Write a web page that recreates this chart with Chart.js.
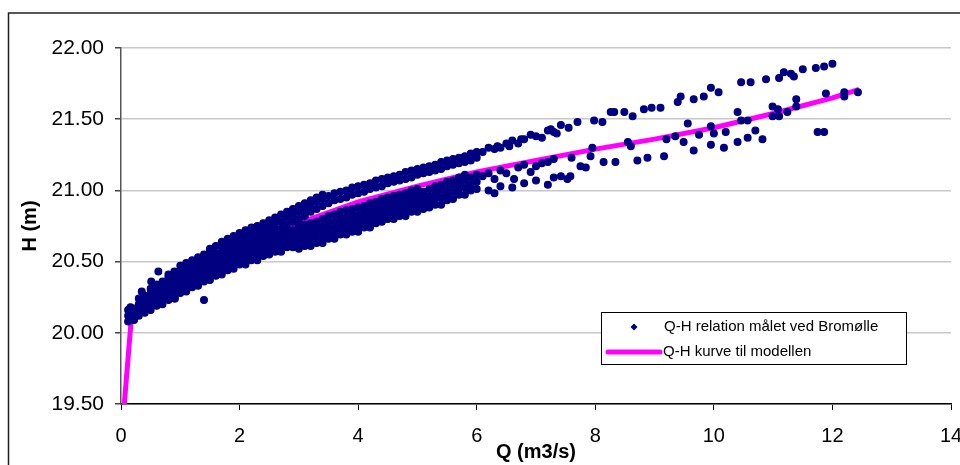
<!DOCTYPE html>
<html>
<head>
<meta charset="utf-8">
<script src="https://cdn.jsdelivr.net/npm/chart.js@4.4.1/dist/chart.umd.min.js"></script>
<style>
  html, body { margin: 0; padding: 0; background: #fff; overflow: hidden; }
  #wrap { width: 960px; height: 465px; position: relative; }
</style>
</head>
<body>
<div id="wrap"><canvas id="mycanvas" width="960" height="465"></canvas></div>
<script>
// Q-H curve used in the model
var curveQ = [0.05, 0.17, 0.5, 1, 1.5, 2, 3, 4, 5, 6, 7, 8, 9, 10, 11, 12, 12.45];
var curveH = [19.47, 20.08, 20.22, 20.36, 20.48, 20.59, 20.77, 20.92, 21.03, 21.13, 21.21, 21.29, 21.36, 21.44, 21.54, 21.65, 21.71];

// measured points, low flows (one column of H values per Q)
var mainQ = [0.12, 0.16, 0.22, 0.3, 0.4, 0.5, 0.6, 0.7, 0.8, 0.9, 1.0, 1.1, 1.2, 1.3, 1.4,
             1.5, 1.6, 1.7, 1.8, 1.9, 2.0, 2.1, 2.2, 2.3, 2.4, 2.5, 2.6, 2.7, 2.8, 2.9];
var mainH = [
  [20.08, 20.12, 20.16],
  [20.10, 20.14, 20.18],
  [20.09, 20.13, 20.17],
  [20.12, 20.16, 20.20, 20.24],
  [20.14, 20.18, 20.22, 20.26],
  [20.16, 20.20, 20.24, 20.28, 20.31],
  [20.19, 20.23, 20.27, 20.31, 20.34],
  [20.20, 20.24, 20.28, 20.32, 20.36],
  [20.23, 20.27, 20.31, 20.35, 20.39, 20.41],
  [20.24, 20.28, 20.32, 20.36, 20.40, 20.43],
  [20.28, 20.32, 20.36, 20.40, 20.44, 20.47],
  [20.29, 20.33, 20.37, 20.41, 20.45, 20.49],
  [20.32, 20.36, 20.40, 20.44, 20.48, 20.51],
  [20.33, 20.37, 20.41, 20.45, 20.49, 20.53],
  [20.36, 20.40, 20.44, 20.48, 20.52, 20.55],
  [20.37, 20.41, 20.45, 20.49, 20.53, 20.57, 20.59],
  [20.40, 20.44, 20.48, 20.52, 20.56, 20.61],
  [20.41, 20.45, 20.49, 20.53, 20.57, 20.61, 20.64],
  [20.44, 20.48, 20.52, 20.56, 20.60, 20.63, 20.66],
  [20.45, 20.49, 20.53, 20.57, 20.61, 20.65, 20.68],
  [20.48, 20.52, 20.56, 20.60, 20.64, 20.67, 20.70],
  [20.48, 20.52, 20.56, 20.60, 20.64, 20.68, 20.72],
  [20.51, 20.55, 20.59, 20.63, 20.67, 20.71, 20.74],
  [20.51, 20.55, 20.59, 20.63, 20.67, 20.71, 20.75],
  [20.54, 20.58, 20.62, 20.66, 20.70, 20.74, 20.77],
  [20.55, 20.59, 20.63, 20.67, 20.71, 20.75, 20.79],
  [20.57, 20.61, 20.65, 20.69, 20.73, 20.77, 20.81],
  [20.57, 20.61, 20.65, 20.69, 20.73, 20.78, 20.83],
  [20.60, 20.64, 20.68, 20.72, 20.76, 20.81, 20.85],
  [20.60, 20.64, 20.68, 20.72, 20.78, 20.83, 20.87]
];

// measured points, the two bands between 3 and 6 m3/s
var bandQ = [3.0, 3.1, 3.2, 3.3, 3.4, 3.5, 3.6, 3.7, 3.8, 3.9, 4.0, 4.1, 4.2, 4.3, 4.4, 4.5,
             4.6, 4.7, 4.8, 4.9, 5.0, 5.1, 5.2, 5.3, 5.4, 5.5, 5.6, 5.7, 5.8, 5.9, 6.0];
var upperH = [
  [20.80, 20.85, 20.89], [20.82, 20.87, 20.91], [20.85, 20.90, 20.93], [20.87, 20.92, 20.95],
  [20.89, 20.94, 20.97], [20.91, 20.96], [20.93, 20.98], [20.94, 20.99],
  [20.95, 21.00], [20.97, 21.02], [20.98, 21.03], [20.99, 21.04],
  [21.01, 21.05], [21.02, 21.07], [21.03, 21.08], [21.05, 21.09],
  [21.06, 21.10], [21.07, 21.11], [21.08, 21.13], [21.09, 21.14],
  [21.11, 21.15], [21.12, 21.16], [21.13, 21.17], [21.14, 21.18],
  [21.15, 21.20], [21.17, 21.21], [21.18, 21.22], [21.19, 21.23],
  [21.20, 21.24], [21.21, 21.26], [21.23, 21.27]
];
var lowerH = [
  [20.59, 20.63, 20.67, 20.71, 20.75], [20.61, 20.65, 20.69, 20.73, 20.76],
  [20.61, 20.65, 20.69, 20.73, 20.77], [20.63, 20.67, 20.71, 20.75, 20.78],
  [20.63, 20.67, 20.71, 20.75, 20.80], [20.66, 20.70, 20.74, 20.78, 20.82],
  [20.66, 20.70, 20.74, 20.78, 20.83], [20.69, 20.73, 20.77, 20.81, 20.85],
  [20.69, 20.73, 20.77, 20.81, 20.86], [20.71, 20.75, 20.79, 20.83, 20.87],
  [20.71, 20.75, 20.79, 20.83, 20.88], [20.74, 20.78, 20.82, 20.86, 20.89],
  [20.74, 20.78, 20.82, 20.86, 20.91], [20.77, 20.81, 20.85, 20.89, 20.92],
  [20.78, 20.82, 20.86, 20.90, 20.94], [20.80, 20.84, 20.88, 20.92, 20.95],
  [20.80, 20.84, 20.88, 20.92, 20.96], [20.82, 20.86, 20.90, 20.94, 20.97],
  [20.82, 20.86, 20.90, 20.94, 20.98], [20.85, 20.89, 20.93, 20.97, 21.00],
  [20.85, 20.89, 20.93, 20.97, 21.01], [20.87, 20.91, 20.95, 20.99],
  [20.88, 20.92, 20.96, 21.01], [20.90, 20.94, 20.98, 21.03],
  [20.90, 20.95, 21.00, 21.04], [20.93, 20.97, 21.01, 21.06],
  [20.94, 20.99, 21.03, 21.07], [20.97, 21.01, 21.05, 21.09],
  [20.97, 21.02, 21.07, 21.11], [21.00, 21.04, 21.09], [21.01, 21.06, 21.11]
];

// scattered single points (outliers and the high flows)
var sparseQ = [0.35, 0.51, 0.63, 0.91, 1.4,
  6.1, 6.2, 6.3, 6.35, 6.4, 6.5, 6.55, 6.6, 6.7, 6.75, 6.8, 6.91, 7.0, 7.1, 7.2, 7.25, 7.3, 7.35,
  7.42, 7.55, 7.7, 7.98, 8.12, 8.26, 8.32, 8.49, 8.63, 8.82, 8.95, 9.1, 9.39, 9.44, 9.66, 9.83,
  9.95, 10.08, 10.46, 10.62, 10.88, 11.1, 11.18, 11.3, 11.35, 11.5, 11.72, 11.86, 12.0,
  6.1, 6.2, 6.3, 6.4, 6.5, 6.63, 6.7, 6.8, 6.91, 7.0, 7.1, 7.2, 7.3, 7.42, 7.53, 7.6, 7.75,
  7.84, 7.92, 7.95, 8.14, 8.34, 8.55, 8.6, 8.71, 8.88, 9.16, 9.2, 9.35, 9.49, 9.56, 9.66, 9.75,
  9.95, 9.95, 10.0, 10.17, 10.2, 10.4, 10.4, 10.46, 10.57, 10.57, 10.7, 10.82, 10.99, 10.99,
  11.08, 11.1, 11.24, 11.39, 11.39, 11.75, 11.86, 11.89, 12.2, 12.2, 12.43,
  6.2, 6.3, 6.4, 6.6, 6.8, 7.0, 7.2, 7.3, 7.58];
var sparseH = [20.29, 20.36, 20.43, 20.24, 20.23,
  21.27, 21.30, 21.29, 21.31, 21.30, 21.33, 21.31, 21.35, 21.33, 21.36, 21.36, 21.39, 21.38, 21.37, 21.42, 21.43, 21.41, 21.40,
  21.46, 21.44, 21.48, 21.49, 21.48, 21.55, 21.55, 21.55, 21.52, 21.57, 21.58, 21.58, 21.62, 21.66, 21.64, 21.66,
  21.72, 21.69, 21.76, 21.76, 21.78, 21.79, 21.83, 21.82, 21.80, 21.85, 21.86, 21.87, 21.89,
  21.10, 21.12, 21.08, 21.14, 21.12, 21.08, 21.16, 21.18, 21.13, 21.17, 21.19, 21.20, 21.22, 21.10, 21.08, 21.23, 21.17,
  21.16, 21.24, 21.30, 21.20, 21.20, 21.34, 21.31, 21.21, 21.23, 21.24, 21.36, 21.38, 21.34, 21.47, 21.28, 21.39,
  21.32, 21.45, 21.40, 21.30, 21.41, 21.55, 21.34, 21.49, 21.49, 21.37, 21.42, 21.36, 21.59, 21.52,
  21.57, 21.52, 21.55, 21.64, 21.59, 21.41, 21.41, 21.68, 21.69, 21.66, 21.69,
  21.00, 20.98, 21.03, 21.02, 21.05, 21.07, 21.04, 21.09, 21.10];

var yTicks = [19.5, 20.0, 20.5, 21.0, 21.5, 22.0];
var xTicks = [0, 2, 4, 6, 8, 10, 12, 14];

var legendLabels = ['Q-H relation målet ved Bromølle', 'Q-H kurve til modellen'];

var NAVY = '#000080';
var MAGENTA = '#FF00FF';
var FONT = '"Liberation Sans", Arial, sans-serif';

// build point lists
var measured = [];
function addColumns(qs, hs) {
  for (var i = 0; i < qs.length; i++) {
    for (var j = 0; j < hs[i].length; j++) {
      measured.push({x: qs[i], y: hs[i][j]});
    }
  }
}
addColumns(mainQ, mainH);
addColumns(bandQ, lowerH);
addColumns(bandQ, upperH);
for (var k = 0; k < sparseQ.length; k++) {
  measured.push({x: sparseQ[k], y: sparseH[k]});
}
var curve = [];
for (var c = 0; c < curveQ.length; c++) {
  curve.push({x: curveQ[c], y: curveH[c]});
}

// outer frame + legend box drawn inside the plot
var framePlugin = {
  id: 'frame',
  beforeDraw: function (chart) {
    var ctx = chart.ctx;
    ctx.save();
    ctx.fillStyle = '#fff';
    ctx.fillRect(0, 0, chart.width, chart.height);
    ctx.strokeStyle = '#222';
    ctx.lineWidth = 1.5;
    ctx.strokeRect(8.5, 13, 1000, 1000);
    ctx.restore();
  },
  afterDraw: function (chart) {
    var ctx = chart.ctx;
    ctx.save();
    ctx.fillStyle = '#fff';
    ctx.fillRect(601, 312, 305, 52);
    ctx.strokeStyle = '#000';
    ctx.lineWidth = 1;
    ctx.strokeRect(601.5, 312.5, 305, 52);

    // marker
    ctx.fillStyle = NAVY;
    ctx.beginPath();
    ctx.moveTo(634, 323.5);
    ctx.lineTo(637.5, 327);
    ctx.lineTo(634, 330.5);
    ctx.lineTo(630.5, 327);
    ctx.closePath();
    ctx.fill();

    // line
    ctx.strokeStyle = MAGENTA;
    ctx.lineWidth = 5;
    ctx.lineCap = 'round';
    ctx.beginPath();
    ctx.moveTo(608, 352);
    ctx.lineTo(660, 352);
    ctx.stroke();

    ctx.fillStyle = '#000';
    ctx.font = '15px ' + FONT;
    ctx.textBaseline = 'middle';
    ctx.textAlign = 'left';
    ctx.fillText(legendLabels[0], 664, 327);
    ctx.fillText(legendLabels[1], 663, 352);
    ctx.restore();
  }
};

var ctx = document.getElementById('mycanvas');
var chart = new Chart(ctx, {
  type: 'scatter',
  data: {
    datasets: [
      {
        label: legendLabels[0],
        data: measured,
        order: 0,
        pointStyle: 'circle',
        pointRadius: 3.4,
        pointBorderWidth: 1.2,
        backgroundColor: NAVY,
        borderColor: NAVY,
        showLine: false
      },
      {
        label: legendLabels[1],
        type: 'line',
        data: curve,
        order: 1,
        borderColor: MAGENTA,
        backgroundColor: MAGENTA,
        borderWidth: 5,
        pointRadius: 0,
        tension: 0,
        fill: false,
        clip: 0
      }
    ]
  },
  options: {
    responsive: false,
    animation: false,
    events: [],
    layout: { padding: { top: 48, right: 9, bottom: 0, left: 0 } },
    plugins: {
      legend: { display: false },
      tooltip: { enabled: false }
    },
    scales: {
      x: {
        type: 'linear',
        min: 0,
        max: 14,
        afterBuildTicks: function (scale) {
          scale.ticks = xTicks.map(function (v) { return {value: v}; });
        },
        afterFit: function (scale) {
          scale.height = 61;
          scale.paddingLeft = 0;
          scale.paddingRight = 0;
        },
        ticks: {
          color: '#000',
          font: { family: FONT, size: 20 },
          padding: 14,
          maxRotation: 0,
          autoSkip: false
        },
        grid: {
          drawOnChartArea: false,
          drawTicks: true,
          tickLength: 6,
          tickColor: '#000'
        },
        border: { color: '#000', width: 1.5 },
        title: {
          display: true,
          text: 'Q (m3/s)',
          color: '#000',
          font: { family: FONT, size: 20, weight: 'bold' },
          padding: { top: 0, bottom: 1 }
        }
      },
      y: {
        type: 'linear',
        min: 19.5,
        max: 22,
        afterBuildTicks: function (scale) {
          scale.ticks = yTicks.map(function (v) { return {value: v}; });
        },
        afterFit: function (scale) {
          scale.width = 121;
          scale.paddingTop = 0;
          scale.paddingBottom = 0;
        },
        ticks: {
          color: '#000',
          font: { family: FONT, size: 21 },
          padding: 11,
          callback: function (v) { return Number(v).toFixed(2); }
        },
        grid: {
          color: '#c8c8c8',
          lineWidth: 1.5,
          drawTicks: true,
          tickLength: 6,
          tickColor: '#444'
        },
        border: { color: '#555', width: 1.5 },
        title: {
          display: true,
          text: 'H (m)',
          color: '#000',
          font: { family: FONT, size: 20, weight: 'bold' },
          padding: { top: 18, bottom: 0 }
        }
      }
    }
  },
  plugins: [framePlugin]
});
</script>
</body>
</html>
